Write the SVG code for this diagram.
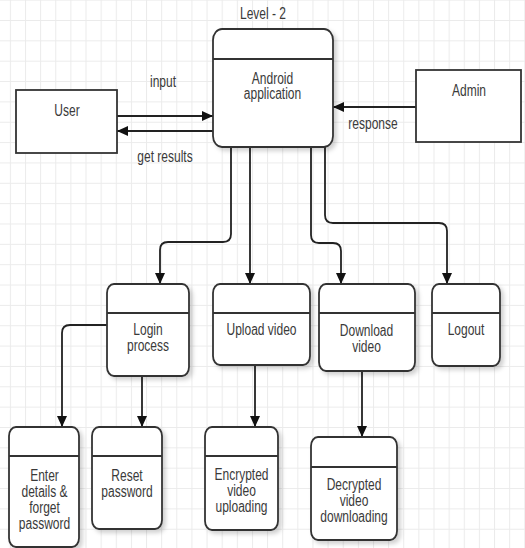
<svg xmlns="http://www.w3.org/2000/svg" width="525" height="548" viewBox="0 0 525 548">
<defs>
<pattern id="grid" patternUnits="userSpaceOnUse" x="9.87" y="-0.35" width="15.13" height="20.35">
<path d="M0 0.5H15.13M0.5 0V20.35" fill="none" stroke="#ebebeb" stroke-width="1"/>
</pattern>
<filter id="sh" x="-20%" y="-20%" width="150%" height="150%">
<feDropShadow dx="3" dy="3" stdDeviation="2" flood-color="#000" flood-opacity="0.18"/>
</filter>
<marker id="ah" markerUnits="userSpaceOnUse" markerWidth="12" markerHeight="11" refX="11" refY="5" orient="auto">
<path d="M0 0L11 5L0 10z" fill="#111"/>
</marker>
</defs>
<style>
.bx{fill:#fff;stroke:#333;stroke-width:1.8}
.dv{stroke:#333;stroke-width:1.8;fill:none}
.cn{fill:none;stroke:#222;stroke-width:1.8}
text{font-family:"Liberation Sans",Arial,sans-serif;font-size:16px;fill:#3a3a3a;text-anchor:middle}
</style>
<rect width="525" height="548" fill="#fff"/>
<rect width="525" height="548" fill="url(#grid)"/>

<text transform="translate(263 0) scale(0.75 1)"><tspan x="0" y="19">Level - 2</tspan></text>

<g id="connectors">
<path class="cn" d="M117 116H213" marker-end="url(#ah)"/>
<path class="cn" d="M213 131H117" marker-end="url(#ah)"/>
<path class="cn" d="M416 107H333" marker-end="url(#ah)"/>
<path class="cn" d="M231 147V234Q231 242 223 242H168Q160 242 160 250V284" marker-end="url(#ah)"/>
<path class="cn" d="M250 147V284" marker-end="url(#ah)"/>
<path class="cn" d="M311 147V235Q311 243 319 243H333Q341 243 341 251V284" marker-end="url(#ah)"/>
<path class="cn" d="M325 147V215Q325 223 333 223H439Q447 223 447 231V284" marker-end="url(#ah)"/>
<path class="cn" d="M107 325H70Q62 325 62 333V427" marker-end="url(#ah)"/>
<path class="cn" d="M142 376V427" marker-end="url(#ah)"/>
<path class="cn" d="M255 365V427" marker-end="url(#ah)"/>
<path class="cn" d="M362 371V437" marker-end="url(#ah)"/>
<text transform="translate(163 0) scale(0.75 1)"><tspan x="0" y="87">input</tspan></text>
<text transform="translate(165 0) scale(0.75 1)"><tspan x="0" y="162">get results</tspan></text>
<text transform="translate(373 0) scale(0.75 1)"><tspan x="0" y="129">response</tspan></text>
</g>

<g id="user">
<rect class="bx" x="16" y="90" width="101" height="63"/>
<text transform="translate(67 0) scale(0.75 1)"><tspan x="0" y="116">User</tspan></text>
</g>

<g id="admin">
<rect class="bx" x="416" y="70" width="105" height="72"/>
<text transform="translate(469 0) scale(0.75 1)"><tspan x="0" y="96">Admin</tspan></text>
</g>

<g id="android">
<rect class="bx" filter="url(#sh)" x="213" y="29" width="120" height="118" rx="9" ry="11"/>
<path class="dv" d="M213 59H333"/>
<text transform="translate(272.5 0) scale(0.75 1)"><tspan x="0" y="84">Android</tspan><tspan x="0" y="99">application</tspan></text>
</g>

<g id="login">
<rect class="bx" filter="url(#sh)" x="107" y="284" width="82" height="92" rx="7" ry="9"/>
<path class="dv" d="M107 313H189"/>
<text transform="translate(148 0) scale(0.75 1)"><tspan x="0" y="335">Login</tspan><tspan x="0" y="351">process</tspan></text>
</g>

<g id="upload">
<rect class="bx" filter="url(#sh)" x="213" y="284" width="97" height="81" rx="7" ry="9"/>
<path class="dv" d="M213 313H310"/>
<text transform="translate(261.5 0) scale(0.75 1)"><tspan x="0" y="335">Upload video</tspan></text>
</g>

<g id="download">
<rect class="bx" filter="url(#sh)" x="319" y="284" width="96" height="87" rx="7" ry="9"/>
<path class="dv" d="M319 313H415"/>
<text transform="translate(366.5 0) scale(0.75 1)"><tspan x="0" y="336">Download</tspan><tspan x="0" y="352">video</tspan></text>
</g>

<g id="logout">
<rect class="bx" filter="url(#sh)" x="432" y="284" width="68" height="82" rx="7" ry="9"/>
<path class="dv" d="M432 313H500"/>
<text transform="translate(466 0) scale(0.75 1)"><tspan x="0" y="335">Logout</tspan></text>
</g>

<g id="enter">
<rect class="bx" filter="url(#sh)" x="9" y="427" width="70" height="120" rx="7" ry="9"/>
<path class="dv" d="M9 456H79"/>
<text transform="translate(44.5 0) scale(0.75 1)"><tspan x="0" y="481">Enter</tspan><tspan x="0" y="497">details &amp;</tspan><tspan x="0" y="513">forget</tspan><tspan x="0" y="529">password</tspan></text>
</g>

<g id="reset">
<rect class="bx" filter="url(#sh)" x="92" y="427" width="70" height="102" rx="7" ry="9"/>
<path class="dv" d="M92 456H162"/>
<text transform="translate(127 0) scale(0.75 1)"><tspan x="0" y="481">Reset</tspan><tspan x="0" y="497">password</tspan></text>
</g>

<g id="encrypted">
<rect class="bx" filter="url(#sh)" x="205" y="427" width="73" height="103" rx="7" ry="9"/>
<path class="dv" d="M205 456H278"/>
<text transform="translate(241.5 0) scale(0.75 1)"><tspan x="0" y="480">Encrypted</tspan><tspan x="0" y="496">video</tspan><tspan x="0" y="512">uploading</tspan></text>
</g>

<g id="decrypted">
<rect class="bx" filter="url(#sh)" x="311" y="437" width="86" height="103" rx="7" ry="9"/>
<path class="dv" d="M311 467H397"/>
<text transform="translate(354 0) scale(0.75 1)"><tspan x="0" y="490">Decrypted</tspan><tspan x="0" y="506">video</tspan><tspan x="0" y="522">downloading</tspan></text>
</g>
</svg>
